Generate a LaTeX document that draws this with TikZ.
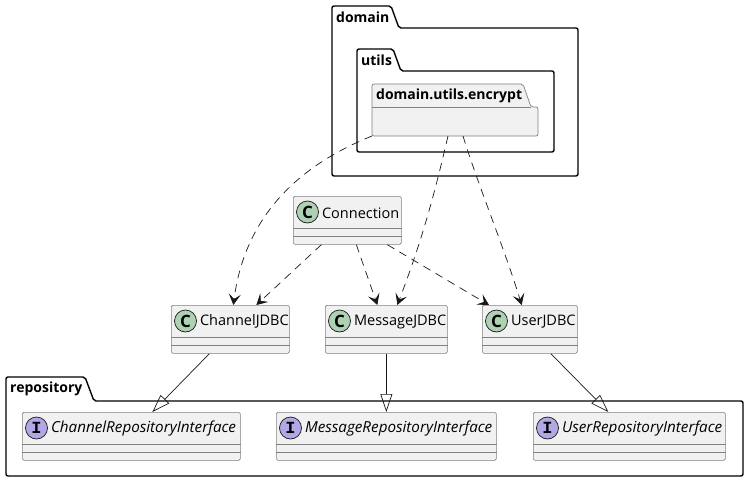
\documentclass[tikz,border=0pt]{standalone}
\usepackage{fontspec}
\setmainfont{Open Sans}
\newfontfamily\spotfont{Liberation Mono}
\usepackage{tikz}
\usetikzlibrary{positioning,arrows.meta}
\definecolor{boxfill}{HTML}{F1F1F1}
\definecolor{boxline}{HTML}{808080}
\definecolor{spotc}{HTML}{ADD1B2}
\definecolor{spoti}{HTML}{B4A7E5}
\definecolor{linkline}{HTML}{181818}
\tikzstyle{classbox}=[rectangle, draw=boxline, fill=boxfill, rounded corners=1.5pt, anchor=north west, inner sep=0, line width=0.7pt, minimum height=48pt]
\tikzstyle{spot}=[circle, draw=linkline, line width=0.7pt, minimum size=22pt, inner sep=0, font=\fontsize{17}{17}\selectfont\bfseries]
\tikzstyle{classname}=[inner sep=0, font=\fontsize{14.5}{17}\selectfont]
\tikzstyle{pkgname}=[inner sep=0, anchor=west, font=\fontsize{14}{17}\selectfont\bfseries]
\tikzstyle{pkgbox}=[line width=1.4pt, draw=black, rounded corners=2pt]
\tikzstyle{uses}=[draw=linkline, line width=0.7pt, dash pattern=on 8pt off 6pt, -{Stealth[length=11pt,width=12pt,inset=5pt]}]
\tikzstyle{realizes}=[draw=linkline, line width=0.7pt, -{Triangle[open,length=18pt,width=12pt]}]
\begin{document}
\begin{tikzpicture}[x=1pt,y=-1pt]
    \useasboundingbox (0,0) rectangle (748,482);

    % packages
    \draw[pkgbox] (332,28) -- (332,6) -- (391,6) -- (399,28) -- (578,28) -- (578,176) -- (332,176) -- cycle;
    \node (domainName) [pkgname] at (336,17) {domain};
    \draw[pkgbox] (357,71) -- (357,49) -- (393,49) -- (401,71) -- (554,71) -- (554,152) -- (357,152) -- cycle;
    \node (utilsName) [pkgname] at (361,60) {utils};
    \draw[pkgbox, draw=boxline, fill=boxfill, line width=0.7pt] (372,107) -- (372,84) -- (523,84) -- (531,107) -- (538,107) -- (538,136) -- (372,136) -- cycle;
    \draw[draw=boxline, line width=0.7pt] (372,107) -- (531,107);
    \node (encryptName) [pkgname] at (376,95.5) {domain.utils.encrypt};
    \coordinate (encrypt) at (455,136);
    \draw[pkgbox] (6,401) -- (6,377) -- (85,377) -- (94,401) -- (743,401) -- (743,476) -- (6,476) -- cycle;
    \node (repositoryName) [pkgname] at (10,389) {repository};

    % classes
    \foreach \cname/\cx/\cy/\cw/\ctext in {connection/293/196/108/Connection, channelJdbc/171/305/118/ChannelJDBC, messageJdbc/325/305/122/MessageJDBC, userJdbc/482/305/95/UserJDBC}{
        \node (\cname) [classbox, minimum width=\cw pt] at (\cx,\cy) {};
        \node (\cname Spot) [spot, fill=spotc, xshift=14.5pt, yshift=-16pt] at (\cname.north west) {C};
        \node (\cname Text) [classname, right=3pt of \cname Spot, yshift=-0.8pt] {\ctext};
        \draw[draw=boxline, line width=0.7pt] ([yshift=-32pt]\cname.north west) -- ([yshift=-32pt]\cname.north east);
        \draw[draw=boxline, line width=0.7pt] ([yshift=-40pt]\cname.north west) -- ([yshift=-40pt]\cname.north east);
    };

    % interfaces
    \foreach \cname/\cx/\cw/\ctext in {channelRepo/22/218/ChannelRepositoryInterface, messageRepo/276/220/MessageRepositoryInterface, userRepo/533/192/UserRepositoryInterface}{
        \node (\cname) [classbox, minimum width=\cw pt] at (\cx,412) {};
        \node (\cname Spot) [spot, fill=spoti, xshift=14.5pt, yshift=-16pt] at (\cname.north west) {\spotfont I};
        \node (\cname Text) [classname, right=3pt of \cname Spot, yshift=-0.8pt, font=\fontsize{15.2}{17}\selectfont\itshape] {\ctext};
        \draw[draw=boxline, line width=0.7pt] ([yshift=-32pt]\cname.north west) -- ([yshift=-32pt]\cname.north east);
        \draw[draw=boxline, line width=0.7pt] ([yshift=-40pt]\cname.north west) -- ([yshift=-40pt]\cname.north east);
    };

    % dependencies
    \draw[uses] ([xshift=-83pt]encrypt) .. controls (300,165) and (245,215) .. ([xshift=3pt]channelJdbc.north);
    \draw[uses] ([xshift=-7pt]encrypt) .. controls (432,205) and (420,245) .. ([xshift=11pt]messageJdbc.north);
    \draw[uses] ([xshift=8pt]encrypt) .. controls (478,185) and (505,250) .. ([xshift=-56pt]userJdbc.north east);
    \draw[uses] ([xshift=-26pt]connection.south) -- ([xshift=26pt]channelJdbc.north);
    \draw[uses] ([xshift=9pt]connection.south) -- ([xshift=-9pt]messageJdbc.north);
    \draw[uses] ([xshift=40pt]connection.south) -- ([xshift=7pt]userJdbc.north west);

    % realizations
    \draw[realizes] ([xshift=-21pt]channelJdbc.south) -- ([xshift=21pt]channelRepo.north);
    \draw[realizes] (messageJdbc.south) -- (messageRepo.north);
    \draw[realizes] ([xshift=21pt]userJdbc.south) -- ([xshift=-21pt]userRepo.north);
\end{tikzpicture}
\end{document}
